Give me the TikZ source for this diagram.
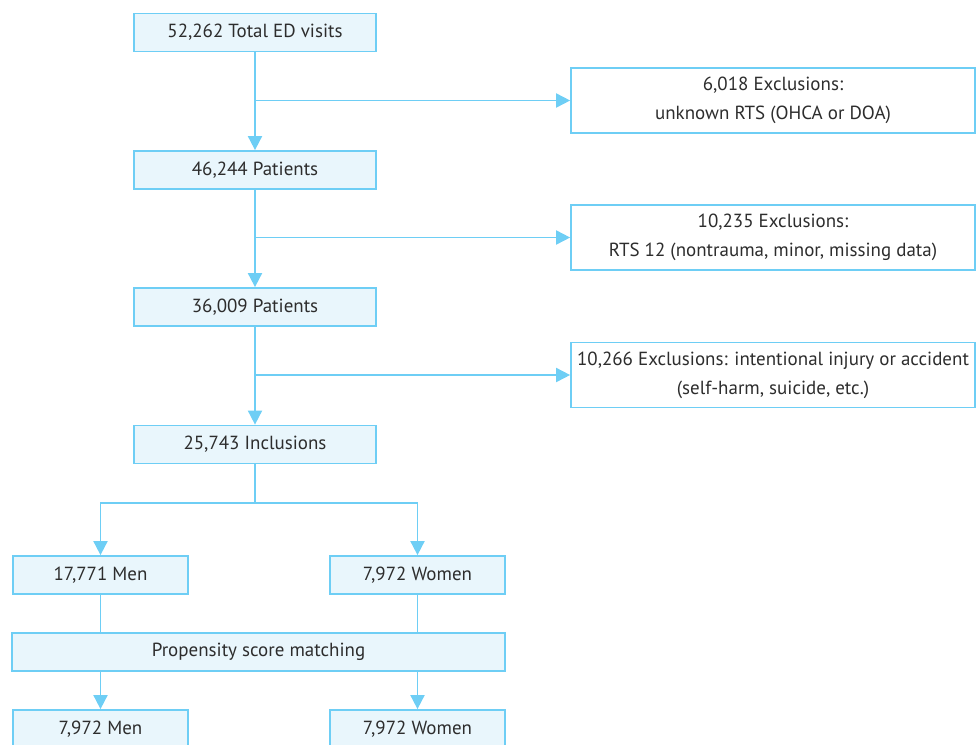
\documentclass[tikz,border=0pt]{standalone}
\usepackage{fontspec}
\setmainfont{PT Sans}
\usetikzlibrary{arrows.meta}
\definecolor{flowblue}{RGB}{110,206,245}
\definecolor{boxfill}{RGB}{233,246,252}
\definecolor{txtgray}{RGB}{45,45,45}

\begin{document}
\begin{tikzpicture}[x=0.02cm,y=-0.02cm,
  font=\fontsize{10.8}{16.4}\selectfont, text=txtgray,
  box/.style={draw=flowblue,line width=1pt,fill=boxfill,inner sep=0pt,
    minimum width=4.84cm,minimum height=0.76cm},
  sexbox/.style={box,minimum width=3.5cm},
  exclbox/.style={draw=flowblue,line width=1pt,fill=white,inner sep=0pt,
    align=center,minimum width=8.08cm,minimum height=1.3cm},
  line/.style={draw=flowblue,line width=1pt},
  flow/.style={line,-{Triangle[length=8pt,width=8pt]}},
]
\useasboundingbox (0,0) rectangle (976,744);

% main column
\node[box] (visits) at (255,32.5) {52,262 Total ED visits};
\node[box] (pat1) at (255,170) {46,244 Patients};
\node[box] (pat2) at (255,307) {36,009 Patients};
\node[box] (incl) at (255,444.5) {25,743 Inclusions};

% exclusions
\node[exclbox] (excl1) at (773,100.5) {6,018 Exclusions:\\unknown RTS (OHCA or DOA)};
\node[exclbox] (excl2) at (773,237.5) {10,235 Exclusions:\\RTS 12 (nontrauma, minor, missing data)};
\node[exclbox] (excl3) at (773,375) {10,266 Exclusions: intentional injury or accident\\(self-harm, suicide, etc.)};

% groups
\node[sexbox] (men) at (100.5,575) {17,771 Men};
\node[sexbox] (women) at (417.5,575) {7,972 Women};
\node[box,minimum width=9.86cm] (psm) at (258.5,652) {Propensity score matching};
\node[sexbox] (men2) at (100.5,729) {7,972 Men};
\node[sexbox] (women2) at (417.5,729) {7,972 Women};

\draw[flow] (visits) -- (pat1);
\draw[flow] (pat1) -- (pat2);
\draw[flow] (pat2) -- (incl);
\draw[flow] (visits.south |- excl1.west) -- (excl1.west);
\draw[flow] (pat1.south |- excl2.west) -- (excl2.west);
\draw[flow] (pat2.south |- excl3.west) -- (excl3.west);

\coordinate (split) at (255,503);
\draw[line] (incl) -- (split);
\draw[flow] (split) -| (men);
\draw[flow] (split) -| (women);
\draw[line] (men) -- (men.south |- psm.north);
\draw[line] (women) -- (women.south |- psm.north);
\draw[flow] (psm.south -| men) -- (men2);
\draw[flow] (psm.south -| women) -- (women2);
\end{tikzpicture}
\end{document}
